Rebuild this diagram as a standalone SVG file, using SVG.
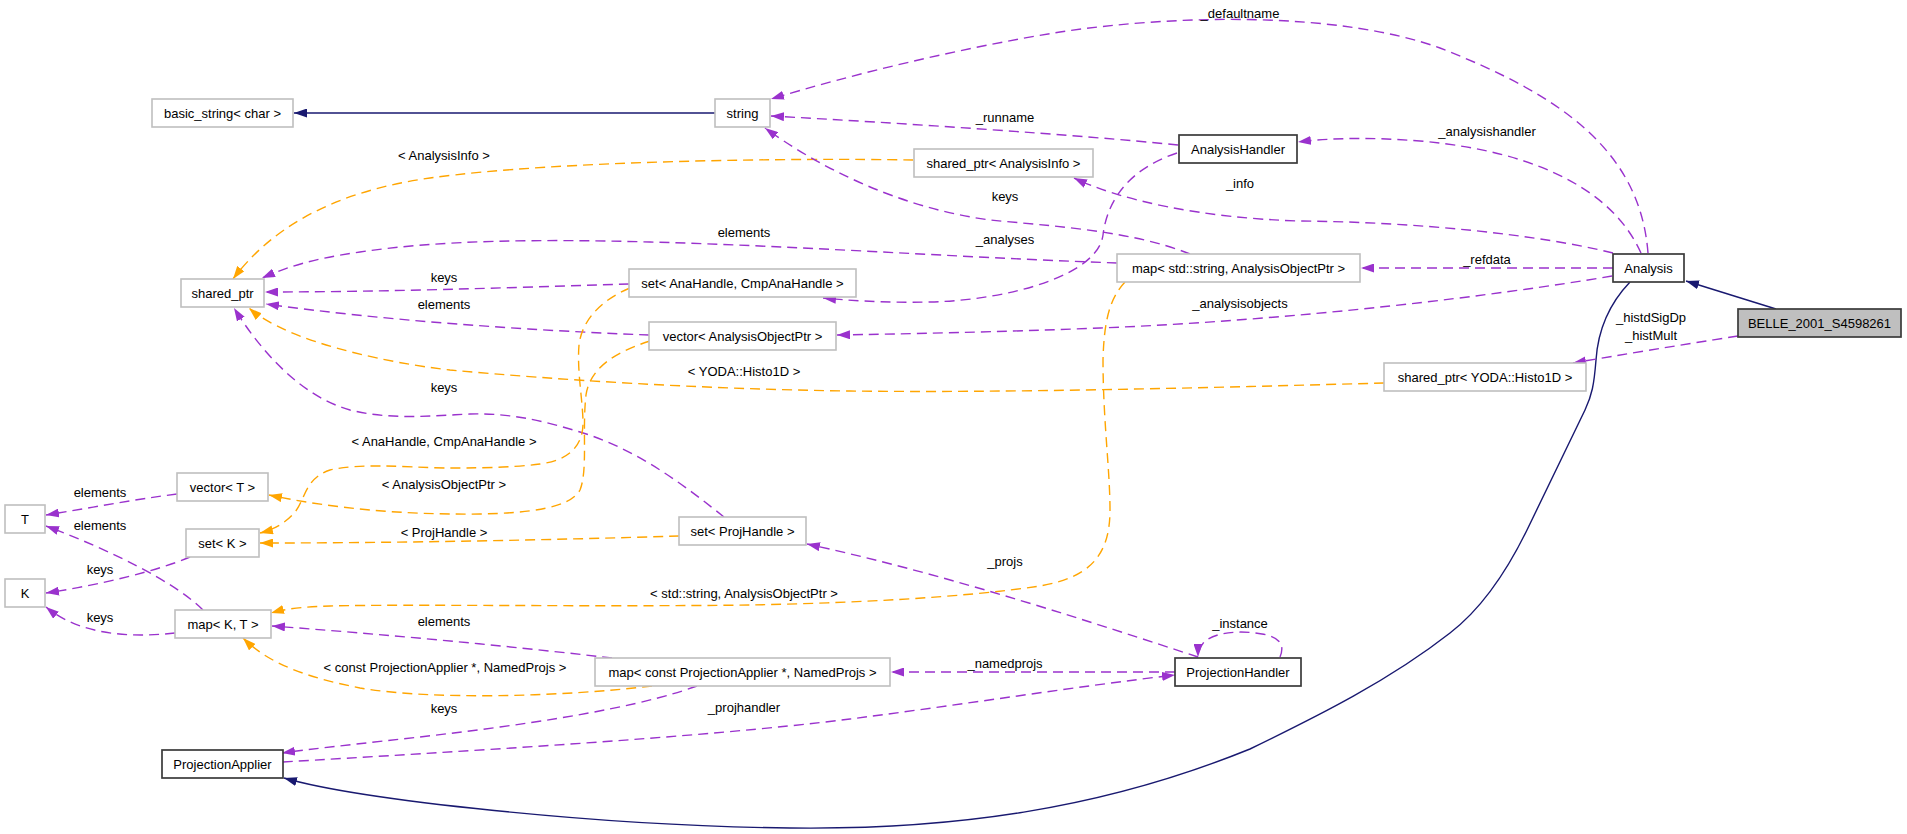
<svg xmlns="http://www.w3.org/2000/svg" width="1907" height="834" viewBox="0 0 1907 834">
<style>
.g rect{fill:#fff;stroke:#bfbfbf;stroke-width:1.6}
.b rect{fill:#fff;stroke:#3a3a3a;stroke-width:1.7}
.r rect{fill:#bfbfbf;stroke:#3a3a3a;stroke-width:1.7}
text{font-family:"Liberation Sans",Arial,Helvetica,sans-serif;font-size:13px;fill:#000}
.nt{text-anchor:middle}
.lb{text-anchor:middle}
.inh{fill:none;stroke:#191970;stroke-width:1.4;marker-end:url(#aN)}
.use{fill:none;stroke:#9a32cd;stroke-width:1.4;stroke-dasharray:10,6;marker-end:url(#aP)}
.tpl{fill:none;stroke:#ffa500;stroke-width:1.4;stroke-dasharray:10,6;marker-end:url(#aO)}
</style>
<defs>
<marker id="aN" viewBox="0 0 13 9" refX="13" refY="4.5" markerWidth="13" markerHeight="9" markerUnits="userSpaceOnUse" orient="auto" preserveAspectRatio="none"><path d="M0,0 L13,4.5 L0,9 z" fill="#191970" stroke="none"/></marker>
<marker id="aP" viewBox="0 0 13 9" refX="13" refY="4.5" markerWidth="13" markerHeight="9" markerUnits="userSpaceOnUse" orient="auto" preserveAspectRatio="none"><path d="M0,0 L13,4.5 L0,9 z" fill="#9a32cd" stroke="none"/></marker>
<marker id="aO" viewBox="0 0 13 9" refX="13" refY="4.5" markerWidth="13" markerHeight="9" markerUnits="userSpaceOnUse" orient="auto" preserveAspectRatio="none"><path d="M0,0 L13,4.5 L0,9 z" fill="#ffa500" stroke="none"/></marker>
</defs>
<rect x="0" y="0" width="1907" height="834" fill="#fff"/>
<g id="connectors">
<path class="inh" d="M715,113 L294,113"/>
<path class="inh" d="M1776,309 L1686,281"/>
<path class="inh" d="M1630,282 C1608,305 1598,330 1596,360 C1594,385 1592,395 1585,410 L1527,530 C1505,575 1480,610 1450,633 C1390,680 1320,715 1250,749 C1100,810 950,830 790,828 C600,826 360,800 284,778"/>
<path class="use" d="M1648,253 C1640,150 1560,95 1440,48 C1340,12 1180,14 1060,32 C960,48 850,75 771,99"/>
<path class="use" d="M1178,145 C1080,135 900,123 771,116"/>
<path class="use" d="M1641,253 C1615,195 1545,152 1420,141 C1370,137 1330,138 1298,142"/>
<path class="use" d="M1613,253 C1540,235 1420,222 1300,221 C1200,218 1120,200 1074,178"/>
<path class="tpl" d="M913,160 C800,158 560,160 430,178 C330,192 270,230 233,279"/>
<path class="use" d="M1190,254 C1130,230 1050,226 990,220 C900,208 820,168 765,128"/>
<path class="use" d="M1117,263 C950,257 800,246 650,242 C540,239 440,240 360,252 C310,259 285,268 262,278"/>
<path class="use" d="M1177,153 C1120,172 1106,210 1103,235 C1098,275 1010,300 930,302 C880,303 845,300 823,298"/>
<path class="use" d="M1613,268 L1361,268"/>
<path class="use" d="M1612,276 C1500,295 1300,320 1100,328 C1000,332 900,334 837,335"/>
<path class="use" d="M629,284 C500,288 380,292 265,292"/>
<path class="use" d="M649,335 C520,330 380,320 266,304"/>
<path class="use" d="M1738,336 C1680,345 1620,355 1573,363"/>
<path class="tpl" d="M1384,383 C1200,388 1000,393 850,391 C700,389 560,380 450,370 C380,362 320,345 290,332 C270,323 258,316 249,308"/>
<path class="use" d="M724,517 C690,490 640,450 580,432 C540,420 510,413 470,414 C430,416 390,420 350,410 C300,396 260,350 234,308"/>
<path class="tpl" d="M630,288 C605,298 582,318 579,345 C577,370 582,395 583,420 C584,445 570,460 540,464 C510,468 470,468 446,468 C400,467 360,463 330,470 C305,478 305,500 295,512 C285,524 272,530 260,533"/>
<path class="tpl" d="M650,341 C615,352 590,368 586,395 C582,430 588,470 580,490 C570,508 530,513 480,514 C400,515 330,508 269,495"/>
<path class="use" d="M177,494 C130,500 90,508 46,515"/>
<path class="use" d="M203,610 C175,582 110,550 46,526"/>
<path class="tpl" d="M679,536 C550,540 400,543 260,543"/>
<path class="use" d="M190,557 C160,570 100,585 46,593"/>
<path class="use" d="M175,633 C130,638 80,635 46,607"/>
<path class="tpl" d="M1125,282 C1110,298 1104,320 1103,360 C1103,420 1110,470 1110,510 C1110,560 1085,578 1040,586 C960,598 850,603 750,605 C600,607 400,604 330,606 C300,607 285,609 271,613"/>
<path class="use" d="M612,658 C500,645 380,634 272,626"/>
<path class="tpl" d="M652,686 C560,697 430,700 360,688 C310,678 270,665 243,638"/>
<path class="use" d="M697,686 C650,703 580,716 500,727 C420,738 340,745 282,753"/>
<path class="use" d="M283,762 C450,752 700,738 850,719 C960,705 1080,686 1175,675"/>
<path class="use" d="M1175,672 L891,672"/>
<path class="use" d="M1198,657 C1100,625 950,575 807,544"/>
<path class="use" d="M1280,657 C1285,645 1280,637 1262,634 C1240,630 1215,632 1204,642 C1200,647 1198,652 1198,657"/>
<g id="edge-labels">
<text class="lb" x="1240" y="17.5">_defaultname</text>
<text class="lb" x="1005" y="121.5">_runname</text>
<text class="lb" x="1487" y="135.5">_analysishandler</text>
<text class="lb" x="444" y="159.5">&lt; AnalysisInfo &gt;</text>
<text class="lb" x="1240" y="187.5">_info</text>
<text class="lb" x="1005" y="200.5">keys</text>
<text class="lb" x="744" y="236.5">elements</text>
<text class="lb" x="1005" y="243.5">_analyses</text>
<text class="lb" x="1487" y="263.5">_refdata</text>
<text class="lb" x="444" y="281.5">keys</text>
<text class="lb" x="444" y="308.5">elements</text>
<text class="lb" x="1240" y="307.5">_analysisobjects</text>
<text class="lb" x="1651" y="321.5">_histdSigDp</text>
<text class="lb" x="1651" y="339.5">_histMult</text>
<text class="lb" x="744" y="375.5">&lt; YODA::Histo1D &gt;</text>
<text class="lb" x="444" y="391.5">keys</text>
<text class="lb" x="444" y="445.5">&lt; AnaHandle, CmpAnaHandle &gt;</text>
<text class="lb" x="444" y="488.5">&lt; AnalysisObjectPtr &gt;</text>
<text class="lb" x="100" y="496.5">elements</text>
<text class="lb" x="100" y="529.5">elements</text>
<text class="lb" x="444" y="536.5">&lt; ProjHandle &gt;</text>
<text class="lb" x="1005" y="565.5">_projs</text>
<text class="lb" x="100" y="573.5">keys</text>
<text class="lb" x="744" y="597.5">&lt; std::string, AnalysisObjectPtr &gt;</text>
<text class="lb" x="100" y="621.5">keys</text>
<text class="lb" x="444" y="625.5">elements</text>
<text class="lb" x="1240" y="627.5">_instance</text>
<text class="lb" x="445" y="671.5">&lt; const ProjectionApplier *, NamedProjs &gt;</text>
<text class="lb" x="1005" y="667.5">_namedprojs</text>
<text class="lb" x="744" y="711.5">_projhandler</text>
<text class="lb" x="444" y="712.5">keys</text>
</g>
</g>
<g id="node-basic_string" class="g"><rect x="152" y="99" width="141" height="28"/><text class="nt" x="222.5" y="117.5">basic_string&lt; char &gt;</text></g>
<g id="node-string" class="g"><rect x="715" y="99" width="55" height="28"/><text class="nt" x="742.5" y="117.5">string</text></g>
<g id="node-AnalysisHandler" class="b"><rect x="1179" y="135" width="118" height="28"/><text class="nt" x="1238" y="153.5">AnalysisHandler</text></g>
<g id="node-shared_ptr_AnalysisInfo" class="g"><rect x="914" y="149" width="179" height="28"/><text class="nt" x="1003.5" y="167.5">shared_ptr&lt; AnalysisInfo &gt;</text></g>
<g id="node-shared_ptr" class="g"><rect x="181" y="279" width="83" height="28"/><text class="nt" x="222.5" y="297.5">shared_ptr</text></g>
<g id="node-set_AnaHandle" class="g"><rect x="629" y="269" width="227" height="28"/><text class="nt" x="742.5" y="287.5">set&lt; AnaHandle, CmpAnaHandle &gt;</text></g>
<g id="node-map_string_AOP" class="g"><rect x="1117" y="254" width="243" height="28"/><text class="nt" x="1238.5" y="272.5">map&lt; std::string, AnalysisObjectPtr &gt;</text></g>
<g id="node-Analysis" class="b"><rect x="1613" y="254" width="71" height="28"/><text class="nt" x="1648.5" y="272.5">Analysis</text></g>
<g id="node-BELLE" class="r"><rect x="1738" y="309" width="163" height="28"/><text class="nt" x="1819.5" y="327.5">BELLE_2001_S4598261</text></g>
<g id="node-vector_AOP" class="g"><rect x="649" y="322" width="187" height="28"/><text class="nt" x="742.5" y="340.5">vector&lt; AnalysisObjectPtr &gt;</text></g>
<g id="node-shared_ptr_Histo1D" class="g"><rect x="1384" y="363" width="202" height="28"/><text class="nt" x="1485" y="381.5">shared_ptr&lt; YODA::Histo1D &gt;</text></g>
<g id="node-vector_T" class="g"><rect x="177" y="473" width="91" height="28"/><text class="nt" x="222.5" y="491.5">vector&lt; T &gt;</text></g>
<g id="node-T" class="g"><rect x="5" y="505" width="40" height="28"/><text class="nt" x="25" y="523.5">T</text></g>
<g id="node-set_K" class="g"><rect x="186" y="529" width="73" height="28"/><text class="nt" x="222.5" y="547.5">set&lt; K &gt;</text></g>
<g id="node-set_ProjHandle" class="g"><rect x="679" y="517" width="127" height="28"/><text class="nt" x="742.5" y="535.5">set&lt; ProjHandle &gt;</text></g>
<g id="node-K" class="g"><rect x="5" y="579" width="40" height="28"/><text class="nt" x="25" y="597.5">K</text></g>
<g id="node-map_K_T" class="g"><rect x="175" y="610" width="96" height="28"/><text class="nt" x="223" y="628.5">map&lt; K, T &gt;</text></g>
<g id="node-map_PA_NP" class="g"><rect x="595" y="658" width="295" height="28"/><text class="nt" x="742.5" y="676.5">map&lt; const ProjectionApplier *, NamedProjs &gt;</text></g>
<g id="node-ProjectionHandler" class="b"><rect x="1175" y="658" width="126" height="28"/><text class="nt" x="1238" y="676.5">ProjectionHandler</text></g>
<g id="node-ProjectionApplier" class="b"><rect x="162" y="750" width="121" height="28"/><text class="nt" x="222.5" y="768.5">ProjectionApplier</text></g>
</svg>
